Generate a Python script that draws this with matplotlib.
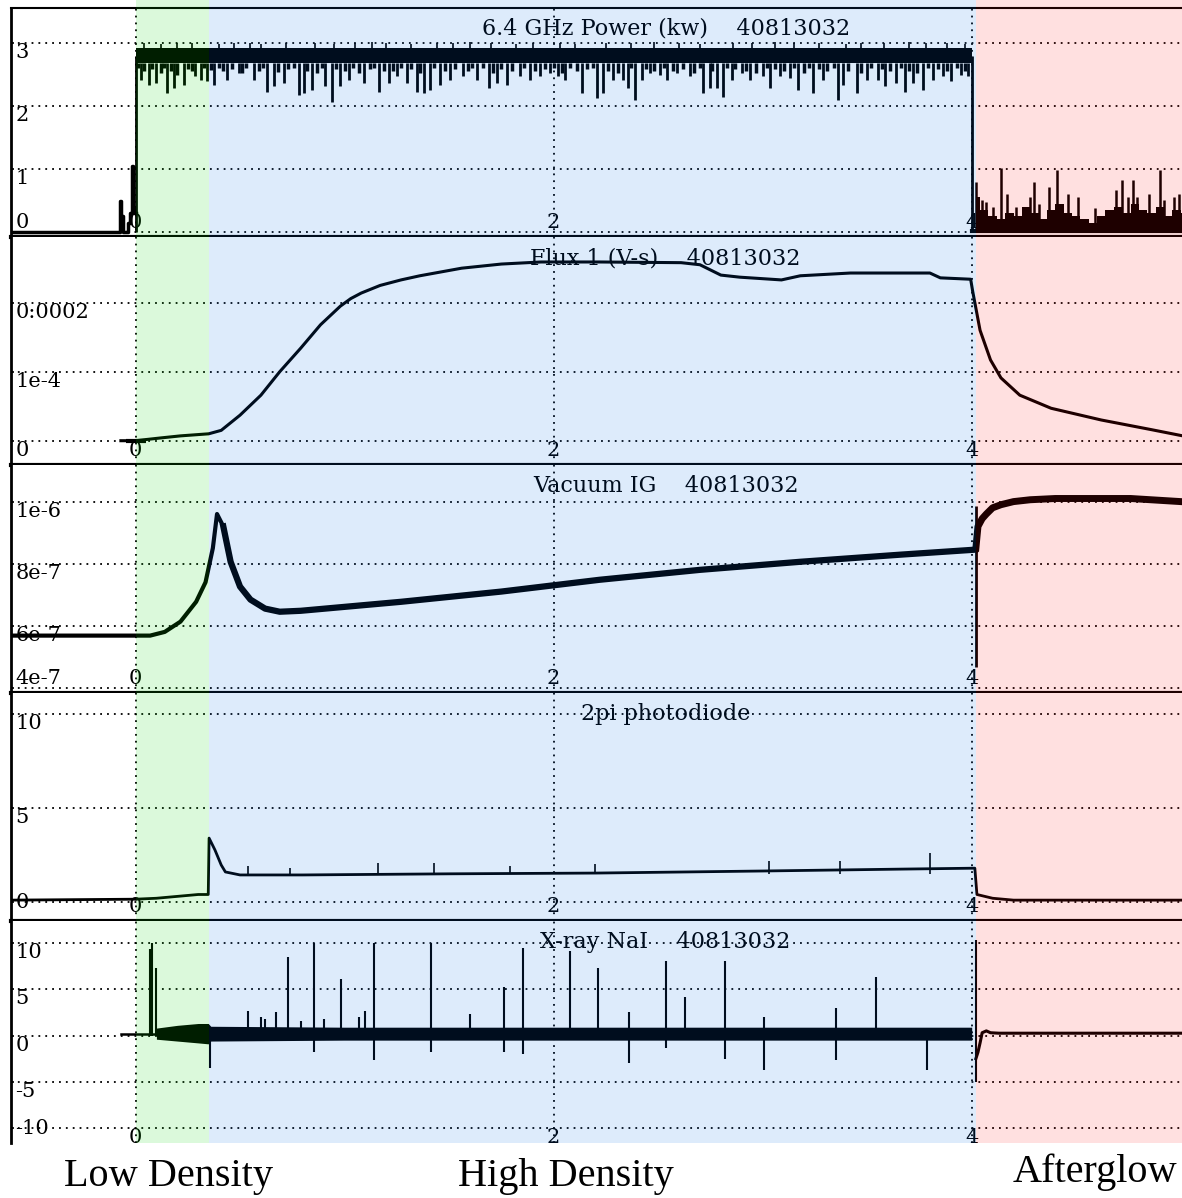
import numpy as np
import matplotlib.pyplot as plt
from matplotlib.patches import Rectangle
from matplotlib.transforms import blended_transform_factory

# ---- shaded regions (time axis) ----
region_edges = [0.003, 0.35, 4.02, 5.1]
region_names = ["Low Density", "High Density", "Afterglow"]

# ---- panel titles / ticks ----
titles = ["6.4 GHz Power (kw)    40813032", "Flux 1 (V-s)    40813032",
          "Vacuum IG    40813032", "2pi photodiode", "X-ray NaI    40813032"]
xticks = [0, 2, 4]
xtick_labels = ["0", "2", "4"]
yticks = [[0, 1, 2, 3],
          [0, 1e-4, 2e-4],
          [4e-7, 6e-7, 8e-7, 1e-6],
          [0, 5, 10],
          [-10, -5, 0, 5, 10]]
ytick_labels = [["0", "1", "2", "3"],
                ["0", "1e-4", "0:0002"],
                ["4e-7", "6e-7", "8e-7", "1e-6"],
                ["0", "5", "10"],
                ["-10", "-5", "0", "5", "10"]]

# ---- 6.4 GHz power (kW) ----
pw_pre_x = [-0.6, -0.075, -0.070, -0.066, -0.060, -0.055, -0.040, -0.030, -0.020, -0.013, -0.009, -0.004, 0.0]
pw_pre_y = [0, 0, 0.5, 0.1, 0.25, 0.0, 0.0, 0.15, 0.3, 1.05, 0.4, 0.3, 0.3]
pw_on = 2.8
pw_band_lo, pw_band_hi = 2.68, 2.92
pw_dip_x = [0.024, 0.064, 0.096, 0.151, 0.183, 0.231, 0.287, 0.311, 0.343, 0.374, 0.438, 0.494,
            0.566, 0.629, 0.661, 0.709, 0.781, 0.804, 0.844, 0.908, 0.940, 0.980, 1.019, 1.091,
            1.163, 1.211, 1.251, 1.298, 1.346, 1.378, 1.410, 1.458, 1.505, 1.569, 1.633, 1.689,
            1.729, 1.776, 1.840, 1.888, 1.935, 1.983, 2.023, 2.055, 2.135, 2.206, 2.238, 2.286,
            2.334, 2.358, 2.389, 2.421, 2.461, 2.509, 2.541, 2.589, 2.652, 2.716, 2.748, 2.780,
            2.812, 2.851, 2.899, 2.939, 3.003, 3.035, 3.082, 3.130, 3.170, 3.241, 3.289, 3.361,
            3.385, 3.449, 3.497, 3.552, 3.584, 3.640, 3.680, 3.720, 3.767, 3.815, 3.863, 3.903,
            3.951, 3.982]
pw_dip_y = [2.41, 2.33, 2.36, 2.20, 2.28, 2.33, 2.47, 2.41, 2.39, 2.33, 2.41, 2.52,
            2.41, 2.23, 2.31, 2.36, 2.17, 2.20, 2.25, 2.31, 2.07, 2.31, 2.41, 2.36,
            2.23, 2.36, 2.47, 2.36, 2.23, 2.20, 2.25, 2.33, 2.41, 2.47, 2.41, 2.28,
            2.36, 2.33, 2.47, 2.41, 2.47, 2.52, 2.47, 2.41, 2.20, 2.12, 2.20, 2.41,
            2.41, 2.28, 2.10, 2.41, 2.52, 2.49, 2.41, 2.52, 2.47, 2.20, 2.28, 2.28,
            2.15, 2.41, 2.52, 2.41, 2.47, 2.28, 2.47, 2.44, 2.25, 2.20, 2.41, 2.10,
            2.33, 2.20, 2.41, 2.41, 2.31, 2.36, 2.23, 2.36, 2.25, 2.41, 2.47, 2.39,
            2.49, 2.47]
# shallower dips that make the lower edge of the trace ragged
pw_mid_x = [0.01, 0.04, 0.08, 0.12, 0.135, 0.17, 0.2, 0.25, 0.27, 0.33, 0.36, 0.4, 0.42, 0.46,
            0.51, 0.53, 0.59, 0.61, 0.68, 0.73, 0.76, 0.82, 0.87, 0.89, 0.96, 1.0, 1.04, 1.07,
            1.12, 1.14, 1.19, 1.23, 1.27, 1.32, 1.36, 1.43, 1.48, 1.53, 1.59, 1.61, 1.66, 1.71,
            1.75, 1.8, 1.86, 1.91, 1.96, 2.0, 2.04, 2.08, 2.11, 2.16, 2.19, 2.26, 2.31, 2.37,
            2.44, 2.48, 2.53, 2.57, 2.62, 2.67, 2.7, 2.76, 2.83, 2.87, 2.92, 2.97, 3.02, 3.06,
            3.1, 3.15, 3.2, 3.22, 3.27, 3.31, 3.34, 3.41, 3.47, 3.52, 3.57, 3.61, 3.66, 3.7,
            3.74, 3.79, 3.84, 3.88, 3.93, 3.97]
pw_mid_y = [2.6, 2.55, 2.58, 2.52, 2.6, 2.56, 2.5, 2.58, 2.55, 2.6, 2.57, 2.6, 2.55, 2.58,
            2.52, 2.6, 2.56, 2.6, 2.54, 2.58, 2.6, 2.55, 2.52, 2.6, 2.58, 2.55, 2.6, 2.52,
            2.58, 2.6, 2.56, 2.55, 2.6, 2.58, 2.52, 2.6, 2.56, 2.58, 2.55, 2.6, 2.6, 2.52,
            2.58, 2.56, 2.6, 2.55, 2.58, 2.6, 2.52, 2.6, 2.56, 2.58, 2.6, 2.55, 2.52, 2.6,
            2.58, 2.55, 2.6, 2.56, 2.58, 2.52, 2.6, 2.55, 2.6, 2.58, 2.56, 2.52, 2.6, 2.58,
            2.55, 2.6, 2.52, 2.6, 2.58, 2.55, 2.6, 2.56, 2.52, 2.6, 2.58, 2.55, 2.6, 2.56,
            2.52, 2.6, 2.58, 2.55, 2.6, 2.56]
pw_tick_x = [0.04, 0.12, 0.2, 0.27, 0.4, 0.47, 0.55, 0.6, 0.72, 0.86, 0.95, 1.05, 1.13, 1.2,
             1.32, 1.44, 1.52, 1.6, 1.7, 1.82, 1.9, 2.03, 2.1, 2.25, 2.37, 2.48, 2.6, 2.7, 2.86,
             2.95, 3.06, 3.15, 3.27, 3.4, 3.47, 3.58, 3.7, 3.78, 3.88, 3.97]
pw_tick_y = [3.0, 2.98, 3.0, 3.0, 2.99, 3.0, 3.0, 2.98, 3.0, 3.0, 2.99, 3.0, 3.02, 3.0,
             2.98, 3.0, 3.0, 3.02, 3.0, 2.99, 3.0, 3.0, 2.98, 3.0, 3.0, 3.02, 3.0, 2.99, 3.0,
             3.0, 3.02, 3.0, 3.0, 2.99, 3.0, 3.0, 3.02, 3.0, 3.0, 2.99]
# afterglow reflected power: base level every 0.04 s, plus spikes
pag_x = np.linspace(4.02, 5.02, 26)
pag_base = [0.55, 0.35, 0.25, 0.2, 0.3, 0.25, 0.4, 0.3, 0.2, 0.35, 0.45, 0.3, 0.25,
            0.2, 0.15, 0.25, 0.35, 0.4, 0.3, 0.45, 0.35, 0.3, 0.4, 0.25, 0.35, 0.3]
pag_spk_x = [4.02, 4.05, 4.07, 4.10, 4.14, 4.17, 4.21, 4.28, 4.30, 4.32, 4.37, 4.41, 4.46,
             4.51, 4.59, 4.69, 4.72, 4.75, 4.77, 4.79, 4.85, 4.90, 4.92, 4.97, 4.99]
pag_spk_y = [0.80, 0.51, 0.48, 0.40, 1.01, 0.61, 0.40, 0.56, 0.80, 0.45, 0.72, 0.98, 0.61,
             0.56, 0.38, 0.67, 0.83, 0.56, 0.83, 0.56, 0.61, 0.98, 0.51, 0.56, 0.61]

# ---- flux 1 (V-s) ----
flux_x = [-0.07, 0.0, 0.12, 0.215, 0.35, 0.41, 0.50, 0.60, 0.69, 0.79, 0.885, 0.98, 1.03,
          1.08, 1.17, 1.27, 1.36, 1.56, 1.75, 1.94, 2.22, 2.61, 2.70, 2.80, 2.89, 3.09, 3.18,
          3.42, 3.80, 3.85, 3.995, 4.005, 4.04, 4.09, 4.14, 4.23, 4.38, 4.62, 4.86, 5.01]
flux_y = [0.0, 0.0, 0.04, 0.07, 0.10, 0.15, 0.37, 0.66, 1.0, 1.34, 1.68, 1.95, 2.06,
          2.14, 2.25, 2.33, 2.39, 2.50, 2.56, 2.59, 2.59, 2.58, 2.55, 2.40, 2.37, 2.33, 2.39,
          2.43, 2.43, 2.36, 2.34, 2.16, 1.60, 1.17, 0.91, 0.66, 0.47, 0.30, 0.16, 0.07]  # x 1e-4

# ---- vacuum ion gauge ----
vac_x = [-0.6, 0.07, 0.14, 0.215, 0.29, 0.335, 0.37, 0.39, 0.42, 0.455, 0.50, 0.55, 0.62,
         0.69, 0.79, 1.27, 1.75, 2.22, 2.70, 3.18, 3.66, 4.015]
vac_y = [5.68, 5.68, 5.8, 6.13, 6.77, 7.4, 8.5, 9.6, 9.2, 8.06, 7.26, 6.84, 6.55,
         6.45, 6.48, 6.77, 7.1, 7.48, 7.8, 8.06, 8.29, 8.45]  # x 1e-7
vac_glitch = (4.02, 4.68, 9.86)
vag_x = [4.02, 4.03, 4.05, 4.07, 4.10, 4.14, 4.20, 4.28, 4.40, 4.52, 4.76, 5.0]
vag_y = [8.5, 9.2, 9.45, 9.6, 9.8, 9.9, 10.0, 10.06, 10.1, 10.1, 10.1, 10.0]

# ---- 2pi photodiode ----
pd_x = [-0.6, 0.0, 0.1, 0.2, 0.3, 0.348, 0.352, 0.38, 0.41, 0.43, 0.5, 0.8, 1.5, 2.2, 3.0,
        3.66, 4.015, 4.025, 4.1, 4.2, 5.0]
pd_y = [0.1, 0.15, 0.2, 0.3, 0.4, 0.4, 3.4, 2.77, 1.97, 1.6, 1.44, 1.44, 1.5, 1.54, 1.65,
        1.75, 1.8, 0.4, 0.2, 0.1, 0.1]
pd_spk_x = [0.54, 0.74, 1.16, 1.43, 1.79, 2.2, 3.03, 3.37, 3.8]
pd_spk_y = [1.9, 1.8, 2.1, 2.1, 1.9, 2.0, 2.2, 2.2, 2.6]

# ---- X-ray NaI ----
xr_band_x = [0.1, 0.2, 0.3, 0.348, 0.36, 1.0, 2.0, 3.0, 4.0]
xr_band_lo = [-0.4, -0.6, -0.8, -0.9, -0.6, -0.5, -0.5, -0.5, -0.5]
xr_band_hi = [0.8, 1.1, 1.3, 1.3, 1.0, 0.9, 0.9, 0.9, 0.9]
xr_up_x = [0.067, 0.08, 0.096, 0.54, 0.60, 0.62, 0.67, 0.73, 0.79, 0.855, 0.9, 0.985, 1.07,
           1.10, 1.14, 1.415, 1.60, 1.765, 1.855, 2.08, 2.21, 2.36, 2.54, 2.63, 2.82, 3.005,
           3.35, 3.54, 4.02]
xr_up_y = [9.3, 10.0, 7.3, 2.7, 2.0, 1.8, 2.5, 8.5, 1.6, 10.0, 1.8, 6.1, 2.0,
           2.7, 10.0, 10.0, 2.3, 5.2, 9.5, 9.1, 7.3, 2.5, 8.1, 4.2, 8.1, 2.0,
           3.0, 6.3, 10.3]
xr_dn_x = [0.355, 0.855, 1.14, 1.415, 1.765, 1.855, 2.36, 2.54, 2.82, 3.005, 3.35, 3.785, 4.02]
xr_dn_y = [-3.5, -1.8, -2.7, -1.8, -1.8, -2.0, -3.0, -1.4, -2.5, -3.7, -2.7, -3.7, -5.0]
xr_pre_x = [-0.07, 0.0, 0.1]
xr_pre_y = [0.2, 0.2, 0.2]
xr_ag_x = [4.02, 4.03, 4.04, 4.05, 4.07, 4.09, 4.13, 5.0]
xr_ag_y = [-2.5, -1.8, -0.8, 0.3, 0.5, 0.3, 0.25, 0.25]

# ---------------------------------------------------------------------------
W, H = 1182, 1198
fig = plt.figure(figsize=(W / 100, H / 100), dpi=100)
serif = "DejaVu Serif"

tops = [8, 237, 465, 693, 921]
bots = [237, 465, 693, 921, 1143]
ylims = [(-0.079, 3.556), (-0.352e-4, 2.952e-4), (3.83e-7, 11.18e-7), (-1.01, 11.12), (-11.62, 12.38)]
x0 = 11
xlim = ((x0 - 135.5) / 209.05, (W - 135.5) / 209.05)
special_va = {(0, "0"): "bottom", (2, "4e-7"): "bottom", (3, "0"): "center", (4, "-10"): "center"}
dots = (0, (1, 2.8))

axes = []
for i, (t, b) in enumerate(zip(tops, bots)):
    ax = fig.add_axes([x0 / W, 1 - b / H, 1 - x0 / W, (b - t) / H])
    ax.set_xlim(*xlim)
    ax.set_ylim(*ylims[i])
    ax.set_xticks(xticks, xtick_labels)
    ax.set_yticks(yticks[i], ytick_labels[i])
    ax.tick_params(axis="x", direction="in", length=0, pad=-11 if i == 4 else -17, labelsize=15)
    ax.tick_params(axis="y", direction="in", length=2.5, width=1.2, pad=-3, labelsize=15)
    for lab in ax.get_yticklabels():
        lab.set_ha("left")
        lab.set_va(special_va.get((i, lab.get_text()), "top"))
    for lab in ax.get_xticklabels() + ax.get_yticklabels():
        lab.set_family(serif)
    ax.grid(True, color="black", lw=1.3, linestyle=dots)
    ax.set_axisbelow(True)
    ax.spines["right"].set_visible(False)
    ax.spines["left"].set_linewidth(2)
    ax.spines["top"].set_visible(i == 0)
    ax.spines["top"].set_linewidth(1.5)
    ax.spines["bottom"].set_visible(i < 4)
    ax.spines["bottom"].set_linewidth(3)
    ax.text(0.559, 1 - 21 / (b - t), titles[i], transform=ax.transAxes, ha="center",
            va="center", fontsize=16, family=serif, zorder=1)
    axes.append(ax)

k = "black"
# power
ax = axes[0]
ax.plot(pw_pre_x, pw_pre_y, color=k, lw=2.5, drawstyle="steps-mid")
ax.fill_between([0.0, 4.0], pw_band_lo, pw_band_hi, color=k, lw=0)
ax.vlines(pw_mid_x, pw_band_lo, pw_mid_y, color=k, lw=2.5)
ax.vlines(pw_dip_x, pw_band_lo, pw_dip_y, color=k, lw=2)
ax.vlines(pw_tick_x, pw_band_hi - 0.05, pw_tick_y, color=k, lw=1.2)
ax.vlines([0.0, 4.0], 0, pw_on, color=k, lw=2)
ax.fill_between(pag_x, 0, pag_base, step="mid", color=k, lw=0)
ax.vlines(pag_spk_x, 0, pag_spk_y, color=k, lw=1.8)
ax.plot([4.0, 5.05], [0.02, 0.02], color=k, lw=3)

# flux
ax = axes[1]
ax.plot(flux_x, np.array(flux_y) * 1e-4, color=k, lw=2.2)
ax.plot([0.0], [0.0], marker="_", ms=14, mew=3, color=k)

# vacuum
ax = axes[2]
v = np.array(vac_y) * 1e-7
ax.plot(vac_x[:9], v[:9], color=k, lw=3)
ax.plot(vac_x[8:], v[8:], color=k, lw=4.5)
ax.vlines(vac_glitch[0], vac_glitch[1] * 1e-7, vac_glitch[2] * 1e-7, color=k, lw=2)
ax.plot(vag_x, np.array(vag_y) * 1e-7, color=k, lw=5)

# photodiode
ax = axes[3]
ax.plot(pd_x, pd_y, color=k, lw=2)
ax.vlines(pd_spk_x, 1.5, pd_spk_y, color=k, lw=1.2)

# x-ray
ax = axes[4]
ax.plot(xr_pre_x, xr_pre_y, color=k, lw=1.8)
ax.fill_between(xr_band_x, xr_band_lo, xr_band_hi, color=k, lw=0)
ax.vlines(xr_up_x, 0, xr_up_y, color=k, lw=1.5)
ax.vlines(xr_dn_x, 0, xr_dn_y, color=k, lw=1.5)
ax.plot(xr_ag_x, xr_ag_y, color=k, lw=2.2)

# translucent colour wash over the three phases (tints the traces too)
wash = [((0.0, 0.86, 0.0), 0.14), ((0.0, 0.41, 0.91), 0.133), ((1.0, 0.0, 0.0), 0.12)]
tr = blended_transform_factory(axes[0].transData, fig.transFigure)
for (c, a), lo, hi in zip(wash, region_edges[:-1], region_edges[1:]):
    fig.add_artist(Rectangle((lo, 1 - 1143 / H), hi - lo, 1143 / H, transform=tr,
                             facecolor=c, alpha=a, lw=0, zorder=5))

# phase labels under the plot
label_x = [169, 566, 1013]
label_ha = ["center", "center", "left"]
label_base = [1186, 1186, 1182]
for name, px, ha, py in zip(region_names, label_x, label_ha, label_base):
    fig.text(px / W, 1 - py / H, name, ha=ha, va="baseline", fontsize=29,
             family="Liberation Serif", zorder=6)

fig.savefig("out.png", dpi=100)
